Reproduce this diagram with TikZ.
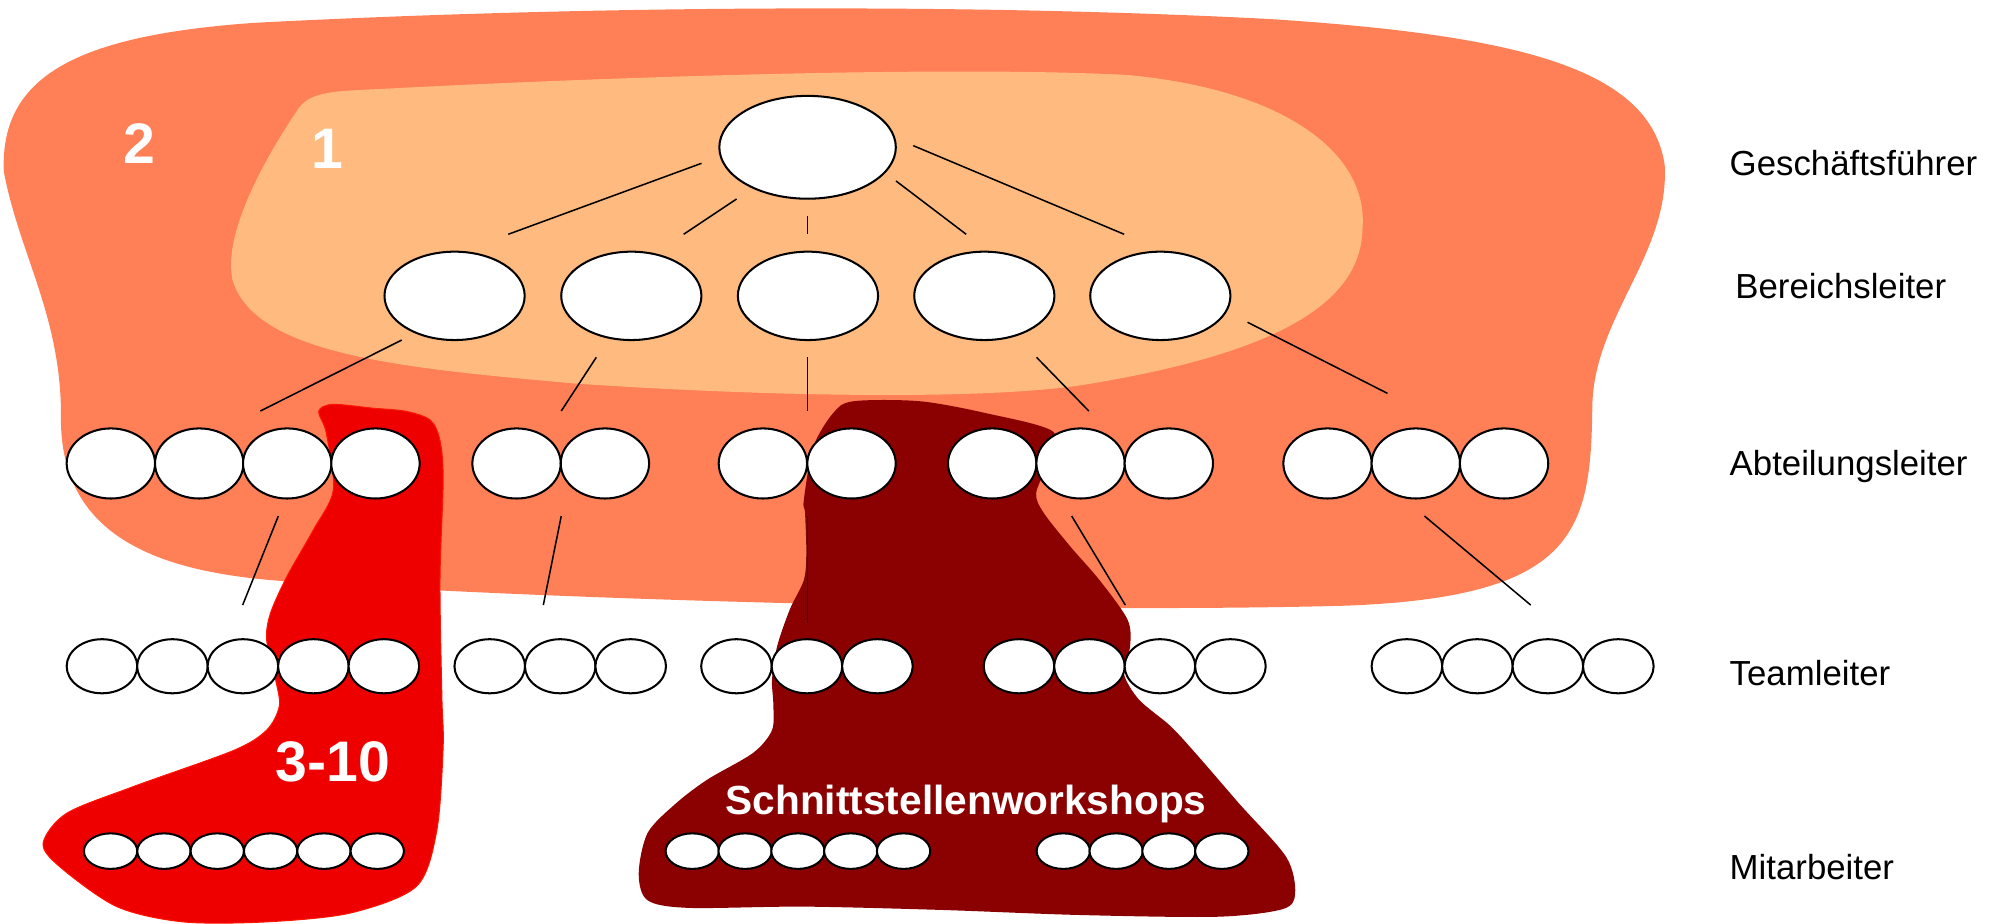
\documentclass[tikz,border=0pt]{standalone}
\usepackage{fontspec}
\setmainfont{Liberation Sans}
\usetikzlibrary{shapes.geometric}
\definecolor{outerc}{RGB}{255,127,87}
\definecolor{innerc}{RGB}{255,187,127}
\definecolor{redc}{RGB}{238,0,0}
\definecolor{redline}{RGB}{255,20,0}
\definecolor{darkc}{RGB}{139,0,0}
\begin{document}
\begin{tikzpicture}[x=1pt,y=-1pt,
  ovbase/.style={ellipse,draw=black,fill=white,line width=1.6pt,inner sep=0pt,outer sep=0pt},
  gfnode/.style={ovbase,minimum width=139pt,minimum height=81pt},
  bnode/.style={ovbase,minimum width=110.4pt,minimum height=69.6pt},
  anode/.style={ovbase,minimum width=69.6pt,minimum height=55.2pt},
  tnode/.style={ovbase,minimum width=55.6pt,minimum height=42.6pt},
  mnode/.style={ovbase,minimum width=42pt,minimum height=28pt},
  conn/.style={draw=black,line width=1.2pt},
  lab/.style={anchor=base west,inner sep=0pt,font=\fontsize{27.4}{30}\selectfont},
  num/.style={anchor=base,inner sep=0pt,text=white,font=\bfseries\fontsize{45}{50}\selectfont},
  wstext/.style={anchor=base,inner sep=0pt,text=white,font=\bfseries\fontsize{32}{36}\selectfont}]
\useasboundingbox (0,0) rectangle (1568,727);

% outer region 2
\fill[outerc] (3,135) .. controls (0,60) and (60,28) .. (200,18)
 .. controls (450,5) and (750,2) .. (1000,15)
 .. controls (1200,28) and (1300,55) .. (1311,130)
 .. controls (1315,200) and (1255,250) .. (1254,320)
 .. controls (1253,420) and (1240,470) .. (1060,477)
 .. controls (800,484) and (380,470) .. (215,457)
 .. controls (120,449) and (48,420) .. (48,330)
 .. controls (49,250) and (15,200) .. (3,135) -- cycle;

% inner region 1
\fill[innerc] (236,84) .. controls (248,70) and (270,72) .. (320,69)
 .. controls (500,60) and (750,52) .. (887,59)
 .. controls (1010,70) and (1078,120) .. (1073,180)
 .. controls (1072,245) and (990,280) .. (860,302)
 .. controls (780,316) and (600,312) .. (452,302)
 .. controls (320,290) and (200,280) .. (183,220)
 .. controls (175,180) and (215,115) .. (236,84) -- cycle;

% red region 3-10
\filldraw[fill=redc,draw=redline,line width=0.8pt] plot[smooth cycle,tension=0.5] coordinates {
 (251,324) (262,318.5) (294,321.5) (320,324) (339,331) (346.5,347) (349,378)
 (346.5,457) (348,549) (349,588) (344,654) (328,698) (276,719) (210,726)
 (144,726) (92,714) (47,682.5) (34,664) (52.5,640.5) (105,619.5) (184,591)
 (210,575) (220,556) (217,535) (210,504) (213,483) (226,454) (247,417)
 (262.5,386) (257,341)};

% dark red region
\fill[darkc] plot[smooth cycle,tension=0.5] coordinates {
 (656,325.5) (672,316) (724.5,316) (777,325.5) (829.5,340) (825,365) (816,388.5)
 (822,404) (843,430.5) (866,457) (888,488) (890,509) (885,530) (897,551)
 (922,572) (944,596) (976,633) (1013,675) (1020,703.5) (1010,716) (958,722)
 (850,720.6) (741,716.6) (633,714) (542.5,715) (510,709) (503,688) (510,656)
 (532,633) (557,614) (593,593) (608,575) (609,554) (608,535) (612,509)
 (622,480) (633,457) (635,436) (634,404) (633,394) (640.5,352)};

% connector end points
\coordinate (g1s) at (552.5,128.6); \coordinate (g1e) at (400.3,184.5);
\coordinate (g2s) at (580.1,156.7); \coordinate (g2e) at (538.4,184.5);
\coordinate (g3s) at (635.8,170.1); \coordinate (g3e) at (635.8,184.5);
\coordinate (g4s) at (705.6,142.5); \coordinate (g4e) at (760.9,184.5);
\coordinate (g5s) at (719.2,114.7); \coordinate (g5e) at (885.3,184.5);
\coordinate (b1s) at (316.4,267.8); \coordinate (b1e) at (205,323.7);
\coordinate (b2s) at (469.6,281.4); \coordinate (b2e) at (442,323.7);
\coordinate (b3s) at (635.8,281.4); \coordinate (b3e) at (635.8,323.7);
\coordinate (b4s) at (816.3,281.4); \coordinate (b4e) at (857.5,323.7);
\coordinate (b5s) at (982.5,253.8); \coordinate (b5e) at (1092.7,309.8);
\coordinate (a1s) at (219.2,406.4); \coordinate (a1e) at (191.1,476.5);
\coordinate (a2s) at (442,406.4); \coordinate (a2e) at (427.9,476.5);
\coordinate (a3s) at (635.8,406.4); \coordinate (a3e) at (635.8,490.4);
\coordinate (a4s) at (844,406.4); \coordinate (a4e) at (886.2,476.5);
\coordinate (a5s) at (1121.8,406.4); \coordinate (a5e) at (1205.5,476.5);
\foreach \c in {g1,g2,g3,g4,g5,b1,b2,b3,b4,b5,a1,a2,a3,a4,a5}
  \draw[conn] (\c s) -- (\c e);

% Geschaeftsfuehrer
\node[gfnode] (gf) at (636,116) {};
% Bereichsleiter
\foreach \i/\x in {1/358,2/497.2,3/636.3,4/775.2,5/913.8}
  \node[bnode] (b\i) at (\x,233) {};
% Abteilungsleiter
\foreach \i/\x in {1/87.3,2/156.9,3/226.2,4/295.7,5/406.8,6/476.4,7/600.8,8/670.6,
  9/781.4,10/851,11/920.5,12/1045.5,13/1115,14/1184.5}
  \node[anode] (a\i) at (\x,365) {};
% Teamleiter
\foreach \i/\x in {1/80.3,2/135.8,3/191.3,4/246.8,5/302.3,6/385.7,7/441.2,8/496.7,
  9/580,10/635.5,11/691,12/802.5,13/858,14/913.5,15/969,16/1108,17/1163.5,18/1219,19/1274.5}
  \node[tnode] (t\i) at (\x,524.7) {};
% Mitarbeiter
\foreach \i/\x in {1/87.1,2/129.1,3/171.1,4/213.1,5/255.1,6/297.1,
  7/545.2,8/586.8,9/628.4,10/670,11/711.6,12/837.4,13/879,14/920.6,15/962.2}
  \node[mnode] (m\i) at (\x,670.3) {};

% texts
\node[num] (n2) at (110,128.6) {2};
\node[num] (n1) at (258,133) {1};
\node[num] (n310) at (262,615.6) {3-10};
\node[wstext] (ws) at (760.8,641.8) {Schnittstellenworkshops};

\node[lab] (lgf) at (1362,138) {Geschäftsführer};
\node[lab] (lbl) at (1366.5,235) {Bereichsleiter};
\node[lab] (lal) at (1362,374.5) {Abteilungsleiter};
\node[lab] (ltl) at (1362,540) {Teamleiter};
\node[lab] (lma) at (1362,693) {Mitarbeiter};
\end{tikzpicture}
\end{document}
